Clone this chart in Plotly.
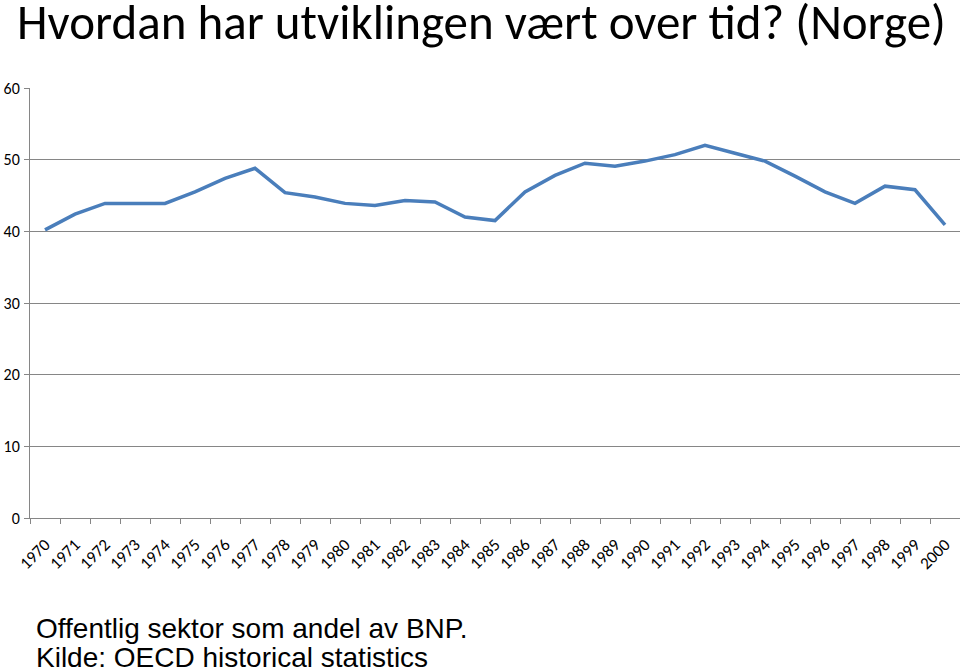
import plotly.graph_objects as go

years = [str(y) for y in range(1970, 2001)]
andel = [40.2, 42.4, 43.9, 43.9, 43.9, 45.5, 47.4, 48.8, 45.4, 44.8,
         43.9, 43.6, 44.3, 44.1, 42.0, 41.5, 45.5, 47.8, 49.5, 49.1,
         49.8, 50.7, 52.0, 50.9, 49.8, 47.7, 45.5, 43.9, 46.3, 45.8, 40.9]
y_ticks = [0, 10, 20, 30, 40, 50, 60]

font_cal = "Carlito, Calibri, Lato, sans-serif"
font_arial = "Liberation Sans, Arial, sans-serif"
grid_col = "#868686"

fig = go.Figure()
fig.add_trace(go.Scatter(
   x=years, y=andel, mode="lines",
   line=dict(color="#4a7ebb", width=3.5),
   showlegend=False, hoverinfo="skip",
))

fig.update_layout(
   width=960, height=672,
   margin=dict(l=30, r=0, t=88, b=154),
   paper_bgcolor="white", plot_bgcolor="white",
   xaxis=dict(
      type="category", range=[-0.5, 30.5], tickangle=-45, automargin=False,
      tickson="boundaries", ticks="outside", ticklen=5, tickcolor=grid_col,
      showline=True, linecolor=grid_col, linewidth=1, showgrid=False,
      ticklabelstandoff=9,
      tickfont=dict(family=font_cal, size=17, color="black"),
   ),
   yaxis=dict(
      range=[0, 60], tickvals=y_ticks, ticks="outside", ticklen=5, automargin=False,
      tickcolor=grid_col, showline=True, linecolor=grid_col, linewidth=1,
      showgrid=True, gridcolor=grid_col, gridwidth=1, zeroline=False,
      ticklabelstandoff=1,
      tickfont=dict(family=font_cal, size=16, color="black"),
   ),
   annotations=[
      dict(x=-0.016, y=1.0, xref="paper", yref="paper", xanchor="left", yanchor="bottom",
           yshift=34, text="Hvordan har utviklingen vært over tid? (Norge)", showarrow=False,
           font=dict(family=font_cal, size=49, color="black")),
      dict(x=0.004, y=0, xref="paper", yref="paper", xanchor="left", yanchor="middle",
           yshift=-110, text="Offentlig sektor som andel av BNP.", showarrow=False,
           font=dict(family=font_arial, size=28, color="black")),
      dict(x=0.004, y=0, xref="paper", yref="paper", xanchor="left", yanchor="middle",
           yshift=-139, text="Kilde: OECD historical statistics", showarrow=False,
           font=dict(family=font_arial, size=28, color="black")),
   ],
)

# browser default body margin would shift the chart by 8px
fig.write_html("out.html", config={"displayModeBar": False},
               post_script="document.body.style.margin='0';")
